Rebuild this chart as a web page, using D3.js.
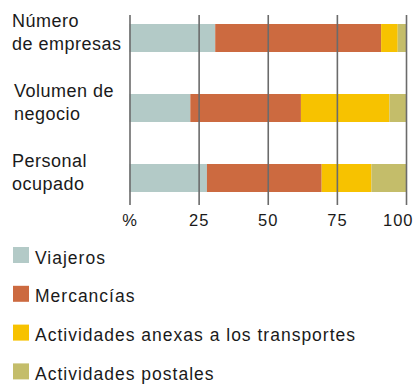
<!DOCTYPE html>
<html>
<head>
<meta charset="utf-8">
<script src="https://cdn.jsdelivr.net/npm/d3@7"></script>
<style>
  html, body { margin: 0; padding: 0; background: #fff; }
  svg { display: block; }
  text { font-family: "Liberation Sans", Arial, sans-serif; fill: #1a1a1a; }
</style>
</head>
<body>
<svg id="chart" width="414" height="384"></svg>
<script>
// Categories (each label split over two lines)
const categories = [
  ["Número", "de empresas"],
  ["Volumen de", "negocio"],
  ["Personal", "ocupado"]
];
const seriesNames = [
  "Viajeros",
  "Mercancías",
  "Actividades anexas a los transportes",
  "Actividades postales"
];
// Percentage shares per category, in series order
const viajeros   = [31, 22, 28];
const mercancias = [60, 40, 41.5];
const anexas     = [6, 32, 18];
const postales   = [3, 6, 12.5];
const tickValues = [0, 25, 50, 75, 100];
const tickLabels = ["%", "25", "50", "75", "100"];
const colors = ["#b3cac7", "#cc6a40", "#f7c200", "#c4bd6a"];

const svg = d3.select("#chart");

const rows = categories.map((c, i) => ({
  key: i,
  Viajeros: viajeros[i],
  "Mercancías": mercancias[i],
  "Actividades anexas a los transportes": anexas[i],
  "Actividades postales": postales[i]
}));

const x = d3.scaleLinear().domain([0, 100]).range([129.5, 406]);
const y = d3.scaleBand().domain(d3.range(categories.length)).range([10, 206]).paddingInner(0.6).paddingOuter(0.2);

const stack = d3.stack().keys(seriesNames)(rows);

// Bars
svg.append("g").selectAll("g")
  .data(stack)
  .join("g")
  .attr("fill", (d, i) => colors[i])
  .selectAll("rect")
  .data(d => d)
  .join("rect")
  .attr("x", d => x(d[0]))
  .attr("width", d => x(d[1]) - x(d[0]))
  .attr("y", (d, i) => y(i))
  .attr("height", y.bandwidth());

// Vertical grid lines drawn over the bars, with the tick labels below
const axis = d3.axisBottom(x)
  .tickValues(tickValues)
  .tickFormat((d, i) => tickLabels[i])
  .tickSize(190)
  .tickSizeOuter(0)
  .tickPadding(9);

const gAxis = svg.append("g")
  .attr("transform", "translate(0,15)")
  .call(axis);
gAxis.select(".domain").remove();
gAxis.selectAll(".tick line")
  .attr("stroke", "#6b6b6b")
  .attr("stroke-width", 1.6);
gAxis.selectAll(".tick text")
  .attr("font-size", 16.5)
  .attr("letter-spacing", 1)
  .attr("fill", "#1a1a1a");
// keep the last label inside the frame
gAxis.selectAll(".tick text")
  .filter(d => d === 100)
  .attr("text-anchor", "end")
  .attr("x", 413 - x(100));

// Category labels
const labels = svg.append("g");
categories.forEach((lines, i) => {
  const t = labels.append("text")
    .attr("y", y(i) + 3)
    .attr("font-size", 18)
    .attr("letter-spacing", 0.5);
  lines.forEach((ln, j) => {
    t.append("tspan").attr("x", i === 1 ? 14 : 12).attr("dy", j === 0 ? 0 : 22.5).text(ln);
  });
});

// Legend
const legend = svg.append("g").selectAll("g")
  .data(seriesNames)
  .join("g")
  .attr("transform", (d, i) => `translate(13,${247 + i * 38.8})`);
legend.append("rect")
  .attr("width", 16)
  .attr("height", 16)
  .attr("fill", (d, i) => colors[i]);
legend.append("text")
  .attr("x", 22)
  .attr("y", 16.5)
  .attr("font-size", 17.5)
  .attr("letter-spacing", 1)
  .text(d => d);
</script>
</body>
</html>
